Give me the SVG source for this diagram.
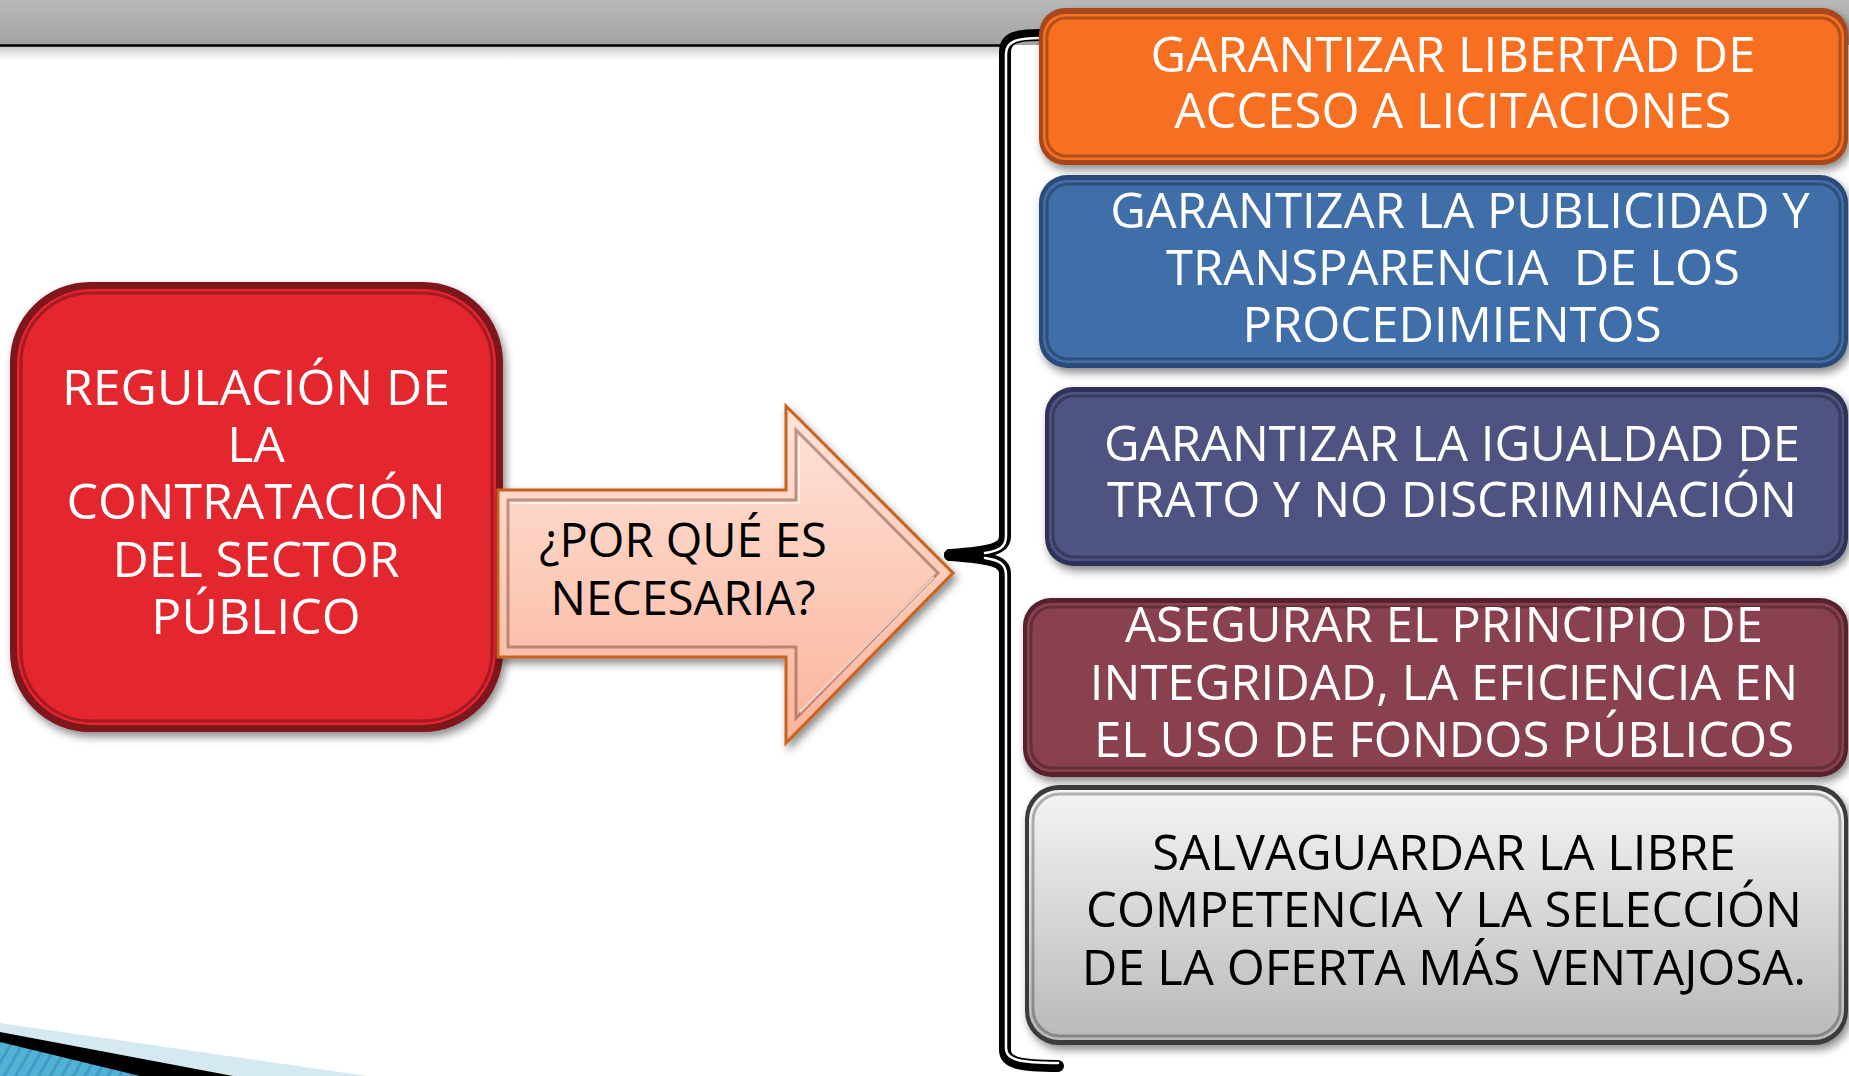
<svg xmlns="http://www.w3.org/2000/svg" width="1849" height="1076" viewBox="0 0 1849 1076">
<style>
.t{font-family:"Open Sans","Noto Sans","DejaVu Sans",sans-serif;font-size:49px;text-anchor:middle}
.w{fill:#ffffff}
.k{fill:#000000}
.bevel{fill:none;stroke:rgba(0,0,0,0.28);stroke-width:3}
.pre{white-space:pre}
</style>
<defs>
<linearGradient id="gBand" x1="0" y1="0" x2="0" y2="1"><stop offset="0" stop-color="#b9b9b9"/><stop offset="1" stop-color="#a3a3a3"/></linearGradient>
<linearGradient id="gShade" x1="0" y1="0" x2="0" y2="1"><stop offset="0" stop-color="#c9c9c9"/><stop offset="1" stop-color="#ffffff"/></linearGradient>
<linearGradient id="gArrow" x1="0" y1="0" x2="0" y2="1"><stop offset="0" stop-color="#fee4db"/><stop offset="1" stop-color="#fbb39a"/></linearGradient>
<linearGradient id="gGray" x1="0" y1="0" x2="0" y2="1"><stop offset="0" stop-color="#f4f4f4"/><stop offset="1" stop-color="#b9b9b9"/></linearGradient>
<pattern id="hatch" width="10" height="10" patternUnits="userSpaceOnUse" patternTransform="rotate(30)"><rect width="10" height="10" fill="#52b2d6"/><rect width="3" height="10" fill="#3f9dc4"/></pattern>
<filter id="sh" x="-10%" y="-10%" width="120%" height="130%"><feDropShadow dx="3" dy="5" stdDeviation="4" flood-color="#000" flood-opacity="0.45"/></filter>
</defs>

<!-- background -->
<rect x="0" y="0" width="1849" height="1076" fill="#ffffff"/>
<rect x="0" y="0" width="1849" height="45" fill="url(#gBand)"/>
<rect x="0" y="46" width="1003" height="14" fill="url(#gShade)"/>
<line x1="0" y1="45.5" x2="1003" y2="45.5" stroke="#000" stroke-width="2.5"/>
<polygon points="0,1023 367,1076 0,1076" fill="#d5e9f1"/>
<polygon points="0,1032 233,1076 0,1076" fill="#000000"/>
<polygon points="0,1042 140,1076 0,1076" fill="url(#hatch)"/>

<!-- connectors -->
<g id="connectors">
<g id="brace" fill="none" stroke-linecap="round" stroke-linejoin="round">
<path d="M1040,35 C1018,35 1005,37 1005,52 L1005,536 C1005,549 992,552 950,555" stroke="#000" stroke-width="12"/>
<path d="M950,555 C992,558 1005,561 1005,574 L1005,1050 C1005,1063 1020,1066 1058,1066" stroke="#000" stroke-width="12"/>
<path d="M1040,38 C1020,38 1006,40 1006,54 L1006,536 C1006,548 998,551 985,553" stroke="#fff" stroke-width="2.5"/>
<path d="M985,558 C998,560 1006,563 1006,575 L1006,1048 C1006,1060 1020,1063 1058,1063" stroke="#fff" stroke-width="2.5"/>
</g>
</g>

<!-- left node -->
<g id="node-regulacion" filter="url(#sh)">
<rect x="10" y="282" width="493" height="450" rx="80" fill="#7e141b"/>
<rect x="17" y="289" width="479" height="436" rx="74" fill="#e4252f"/>
<rect x="21" y="293" width="471" height="428" rx="70" class="bevel"/>
</g>
<g id="label-regulacion" class="t w" style="font-size:50px">
<text x="256" y="405">REGULACIÓN DE</text>
<text x="256" y="462">LA</text>
<text x="256" y="519">CONTRATACIÓN</text>
<text x="256" y="577">DEL SECTOR</text>
<text x="256" y="634">PÚBLICO</text>
</g>

<!-- arrow node -->
<g id="node-arrow">
<polygon points="498,490 786,490 786,406 953,573 786,743 786,657 498,657" fill="url(#gArrow)" stroke="#c8621f" stroke-width="3" filter="url(#sh)"/>
<polygon points="508,500 796,500 796,430 938,573 796,718 796,647 508,647" fill="none" stroke="rgba(110,60,40,0.45)" stroke-width="3"/>
<polyline points="511,503 799,503 799,437" fill="none" stroke="rgba(255,255,255,0.6)" stroke-width="2"/>
<polyline points="800,712 934,577" fill="none" stroke="rgba(255,255,255,0.6)" stroke-width="2"/>
<text class="t k" style="font-size:47px" x="683" y="557">¿POR QUÉ ES</text>
<text class="t k" style="font-size:47px" x="683" y="615">NECESARIA?</text>
</g>

<!-- right nodes -->
<g id="node-libertad">
<g filter="url(#sh)">
<rect x="1039" y="8" width="809" height="157" rx="26" fill="#a9471a"/>
<rect x="1043" y="14" width="801" height="146" rx="22" fill="#f76f21"/>
<rect x="1047" y="18" width="793" height="138" rx="19" class="bevel"/>
</g>
<text class="t w" x="1453" y="72">GARANTIZAR LIBERTAD DE</text>
<text class="t w" x="1453" y="128">ACCESO A LICITACIONES</text>
</g>

<g id="node-publicidad">
<g filter="url(#sh)">
<rect x="1039" y="175" width="809" height="193" rx="28" fill="#294b78"/>
<rect x="1043" y="180" width="801" height="183" rx="24" fill="#416ea8"/>
<rect x="1047" y="184" width="793" height="175" rx="21" class="bevel"/>
</g>
<text class="t w" x="1460" y="228">GARANTIZAR LA PUBLICIDAD Y</text>
<text class="t w pre" x="1453" y="285">TRANSPARENCIA  DE LOS</text>
<text class="t w" x="1452" y="342">PROCEDIMIENTOS</text>
</g>

<g id="node-igualdad">
<g filter="url(#sh)">
<rect x="1045" y="387" width="803" height="179" rx="28" fill="#2e3258"/>
<rect x="1049" y="392" width="795" height="169" rx="24" fill="#4f5381"/>
<rect x="1053" y="396" width="787" height="161" rx="21" class="bevel"/>
</g>
<text class="t w" x="1452" y="461">GARANTIZAR LA IGUALDAD DE</text>
<text class="t w" x="1452" y="517">TRATO Y NO DISCRIMINACIÓN</text>
</g>

<g id="node-integridad">
<g filter="url(#sh)">
<rect x="1023" y="598" width="825" height="179" rx="28" fill="#56222e"/>
<rect x="1027" y="603" width="817" height="169" rx="24" fill="#894150"/>
<rect x="1031" y="607" width="809" height="161" rx="21" class="bevel"/>
</g>
<text class="t w" x="1444" y="642">ASEGURAR EL PRINCIPIO DE</text>
<text class="t w" x="1444" y="700">INTEGRIDAD, LA EFICIENCIA EN</text>
<text class="t w" x="1444" y="757">EL USO DE FONDOS PÚBLICOS</text>
</g>

<g id="node-competencia">
<g filter="url(#sh)">
<rect x="1025" y="785" width="823" height="260" rx="34" fill="#3a3a3a"/>
<rect x="1029" y="790" width="815" height="250" rx="30" fill="url(#gGray)"/>
<rect x="1033" y="794" width="807" height="242" rx="27" class="bevel"/>
</g>
<text class="t k" x="1444" y="870">SALVAGUARDAR LA LIBRE</text>
<text class="t k" x="1444" y="927">COMPETENCIA Y LA SELECCIÓN</text>
<text class="t k" x="1444" y="985">DE LA OFERTA MÁS VENTAJOSA.</text>
</g>
</svg>
